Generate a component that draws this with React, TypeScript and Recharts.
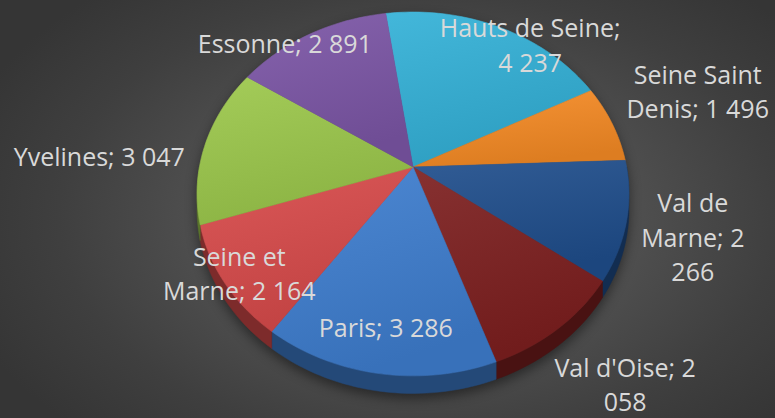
import { PieChart, Pie } from "recharts";

const departements = [
  "Hauts de Seine",
  "Seine Saint Denis",
  "Val de Marne",
  "Val d'Oise",
  "Paris",
  "Seine et Marne",
  "Yvelines",
  "Essonne",
];
const effectifs = [4237, 1496, 2266, 2058, 3286, 2164, 3047, 2891];

const palette = ["#33b1d7", "#f68b25", "#1f4e8c", "#7d1f1f", "#3e7ecf", "#d84a4a", "#9cc84b", "#7b55a6"];

// where each label sits: factors on the projected mid-angle point, and wrap width in characters
const labelLayout = [
  { fx: 1.36, fy: 0.87, wrap: 15 },
  { fx: 1.43, fy: 1.72, wrap: 12 },
  { fx: 1.31, fy: 1.31, wrap: 8 },
  { fx: 1.46, fy: 1.35, wrap: 13 },
  { fx: 0.78, fy: 0.78, wrap: 30 },
  { fx: 0.92, fy: 0.93, wrap: 12 },
  { fx: 1.51, fy: 0.44, wrap: 30 },
  { fx: 1.25, fy: 0.92, wrap: 30 },
];

const data = departements.map((name, i) => ({ name, value: effectifs[i] }));

const W = 775;
const H = 418;
const TILT = 0.833; // vertical squash of the pie plane
const PERSP = 0.148; // near side drawn bigger
const DEPTH = 15;
const START = 98.4;

function project(cx: number, cy: number, R: number, deg: number, r = 1) {
  const t = (deg * Math.PI) / 180;
  const w = 1 + PERSP * r * Math.sin(t);
  return {
    x: cx + (R * r * Math.cos(t)) / w,
    y: cy - (R * TILT * r * Math.sin(t)) / w,
    w,
  };
}

function arcPoints(cx: number, cy: number, R: number, a0: number, a1: number, drop = 0) {
  const n = Math.max(2, Math.ceil(Math.abs(a1 - a0) / 1.5));
  const pts: string[] = [];
  for (let k = 0; k <= n; k++) {
    const a = a0 + ((a1 - a0) * k) / n;
    const p = project(cx, cy, R, a);
    pts.push(`${p.x.toFixed(2)},${(p.y + drop / p.w).toFixed(2)}`);
  }
  return pts;
}

function shade(hex: string, f: number) {
  const n = parseInt(hex.slice(1), 16);
  const c = [(n >> 16) & 255, (n >> 8) & 255, n & 255].map((v) =>
    Math.round(f >= 1 ? v + (255 - v) * (f - 1) : v * f)
  );
  return `rgb(${c[0]},${c[1]},${c[2]})`;
}

function Slice3D(props: any) {
  const { cx, cy, outerRadius, startAngle, endAngle } = props;
  const name = props.name ?? props.payload?.name;
  const i = departements.indexOf(name);
  const color = palette[i] ?? "#888";
  const hi = Math.max(startAngle, endAngle);
  const lo = Math.min(startAngle, endAngle);

  // outer wall, only the part facing the viewer
  const walls: string[] = [];
  for (const [f0, f1] of [[-180, 0], [180, 360], [-540, -360]]) {
    const a = Math.max(lo, f0);
    const b = Math.min(hi, f1);
    if (b - a > 0.01) {
      const top = arcPoints(cx, cy, outerRadius, b, a);
      const bottom = arcPoints(cx, cy, outerRadius, a, b, DEPTH);
      walls.push(`M${top.join(" L")} L${bottom.join(" L")} Z`);
    }
  }

  const face = `M${cx},${cy} L${arcPoints(cx, cy, outerRadius, startAngle, endAngle).join(" L")} Z`;
  const gid = `face-${i}`;

  return (
    <g>
      <defs>
        <linearGradient id={gid} x1="0" y1="0" x2="0.35" y2="1">
          <stop offset="0%" stopColor={shade(color, 1.08)} />
          <stop offset="100%" stopColor={shade(color, 0.9)} />
        </linearGradient>
      </defs>
      {walls.map((d, k) => (
        <path key={k} d={d} fill={shade(color, 0.58)} stroke={shade(color, 0.58)} strokeWidth={0.5} />
      ))}
      <path d={face} fill={`url(#${gid})`} stroke={`url(#${gid})`} strokeWidth={0.6} strokeLinejoin="round" />
    </g>
  );
}

function wrapWords(text: string, max: number) {
  const lines: string[] = [];
  let cur = "";
  for (const word of text.split(" ")) {
    const next = cur ? `${cur} ${word}` : word;
    if (next.length > max && cur) {
      lines.push(cur);
      cur = word;
    } else {
      cur = next;
    }
  }
  if (cur) lines.push(cur);
  return lines;
}

const fmt = (v: number) => String(v).replace(/\B(?=(\d{3})+(?!\d))/g, " ");

function renderLabel(props: any) {
  const { cx, cy, outerRadius, midAngle } = props;
  const name = props.name ?? props.payload?.name;
  const i = departements.indexOf(name);
  const layout = labelLayout[i];
  const p = project(cx, cy, outerRadius, midAngle);
  const x = cx + (p.x - cx) * layout.fx;
  const y = cy + (p.y - cy) * layout.fy;
  const lines = wrapWords(`${name}; ${fmt(effectifs[i])}`, layout.wrap);
  const lh = 34.5;
  return (
    <text
      key={name}
      x={x}
      textAnchor="middle"
      fontFamily="'Open Sans', sans-serif"
      fontSize={25}
      fill="#d9d9d9"
    >
      {lines.map((line, k) => (
        <tspan key={k} x={x} y={y + 9 + (k - (lines.length - 1) / 2) * lh}>
          {line}
        </tspan>
      ))}
    </text>
  );
}

export default function App() {
  return (
    <div
      style={{
        position: "absolute",
        left: 0,
        top: 0,
        width: W,
        height: H,
        background:
          "radial-gradient(ellipse 62% 72% at 54% 52%, #5d5d5d 0%, #4f4f4f 45%, #3f3f3f 75%, #353535 100%)",
      }}
    >
      <style>{".pie-body { filter: drop-shadow(0px 5px 6px rgba(0,0,0,0.45)); }"}</style>
      <PieChart width={W} height={H} margin={{ top: 0, right: 0, bottom: 0, left: 0 }}>
        <Pie
          className="pie-body"
          data={data}
          dataKey="value"
          nameKey="name"
          cx={413}
          cy={167}
          outerRadius={213.6}
          startAngle={START}
          endAngle={START - 360}
          stroke="none"
          shape={Slice3D}
          inactiveShape={Slice3D}
          activeShape={Slice3D}
          isAnimationActive={false}
        />
        <Pie
          data={data}
          dataKey="value"
          nameKey="name"
          cx={413}
          cy={167}
          outerRadius={213.6}
          startAngle={START}
          endAngle={START - 360}
          fill="none"
          stroke="none"
          label={renderLabel}
          labelLine={false}
          isAnimationActive={false}
        />
      </PieChart>
    </div>
  );
}
